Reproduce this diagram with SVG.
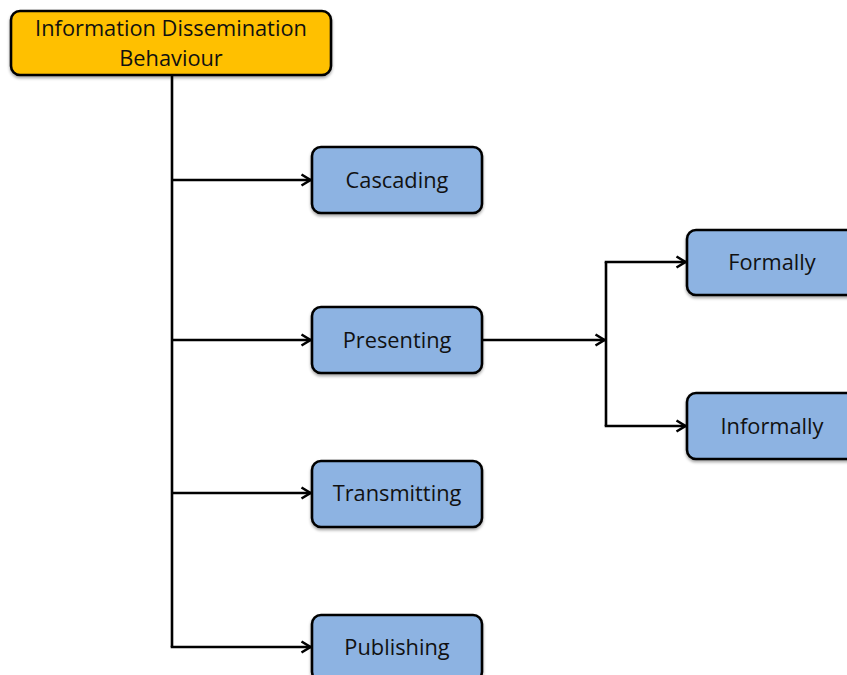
<svg xmlns="http://www.w3.org/2000/svg" width="847" height="675" viewBox="0 0 847 675">
  <style>
    .box { stroke: #000; stroke-width: 2.6; filter: url(#shadow); }
    .root { fill: #FFC000; }
    .leaf { fill: #8DB3E2; }
    .label { font-family: "Open Sans", "Liberation Sans", sans-serif; font-size: 21.8px; fill: #111; text-anchor: middle; dominant-baseline: central; }
    .wire { fill: none; stroke: #000; stroke-width: 2.6; }
  </style>
  <defs>
    <filter id="shadow" x="-10%" y="-10%" width="120%" height="130%">
      <feDropShadow dx="0" dy="2" stdDeviation="1.5" flood-color="#000" flood-opacity="0.35"/>
    </filter>
    <marker id="arrow" viewBox="0 0 14 14" refX="12.5" refY="7" markerWidth="14" markerHeight="14" markerUnits="userSpaceOnUse" orient="auto">
      <path d="M3,1.5 L12,7 L3,12.5" fill="none" stroke="#000" stroke-width="2.6" stroke-linejoin="miter"/>
    </marker>
  </defs>
  <rect width="847" height="675" fill="#fff"/>

  <g id="connectors">
    <path class="wire" d="M172,75 V647"/>
    <path class="wire" d="M172,180 H311" marker-end="url(#arrow)"/>
    <path class="wire" d="M172,340 H311" marker-end="url(#arrow)"/>
    <path class="wire" d="M172,493 H311" marker-end="url(#arrow)"/>
    <path class="wire" d="M170.7,647 H311" marker-end="url(#arrow)"/>
    <path class="wire" d="M482,340 H605" marker-end="url(#arrow)"/>
    <path class="wire" d="M606,262 V426"/>
    <path class="wire" d="M604.7,262 H686" marker-end="url(#arrow)"/>
    <path class="wire" d="M604.7,426 H686" marker-end="url(#arrow)"/>
  </g>

  <g id="node-root">
    <rect class="box root" x="11" y="11" width="320" height="64" rx="9"/>
    <text class="label" x="171" y="27">Information Dissemination</text>
    <text class="label" x="171" y="57">Behaviour</text>
  </g>
  <g id="node-cascading">
    <rect class="box leaf" x="312" y="147" width="170" height="66" rx="9"/>
    <text class="label" x="397" y="179">Cascading</text>
  </g>
  <g id="node-presenting">
    <rect class="box leaf" x="312" y="307" width="170" height="66" rx="9"/>
    <text class="label" x="397" y="339">Presenting</text>
  </g>
  <g id="node-transmitting">
    <rect class="box leaf" x="312" y="461" width="170" height="66" rx="9"/>
    <text class="label" x="397" y="492">Transmitting</text>
  </g>
  <g id="node-publishing">
    <rect class="box leaf" x="312" y="615" width="170" height="66" rx="9"/>
    <text class="label" x="397" y="646">Publishing</text>
  </g>
  <g id="node-formally">
    <rect class="box leaf" x="687" y="230" width="170" height="65" rx="9"/>
    <text class="label" x="772" y="261">Formally</text>
  </g>
  <g id="node-informally">
    <rect class="box leaf" x="687" y="393" width="170" height="66" rx="9"/>
    <text class="label" x="772" y="425">Informally</text>
  </g>
</svg>
